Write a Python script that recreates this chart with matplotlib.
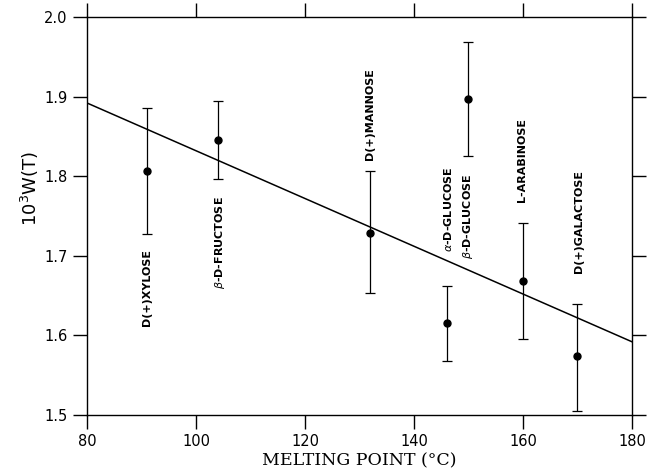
import numpy as np
import matplotlib
matplotlib.use('Agg')
import matplotlib.pyplot as plt

# sugars: melting point vs 10^3 W(T)
names = ['D(+)XYLOSE', r'$\beta$-D-FRUCTOSE', 'D(+)MANNOSE', r'$\alpha$-D-GLUCOSE',
         r'$\beta$-D-GLUCOSE', 'L-ARABINOSE', 'D(+)GALACTOSE']
mp = [91, 104, 132, 146, 150, 160, 170]
w = [1.807, 1.845, 1.729, 1.615, 1.897, 1.668, 1.574]
w_lo = [1.728, 1.797, 1.653, 1.568, 1.825, 1.596, 1.505]
w_hi = [1.886, 1.894, 1.806, 1.662, 1.969, 1.741, 1.640]

# label positions (x, bottom of text)
label_x = [91, 104.4, 132, 146.3, 150, 159.9, 170.2]
label_y = [1.612, 1.658, 1.820, 1.705, 1.696, 1.768, 1.678]

# fitted line
fit_x = [80, 180]
fit_y = [1.892, 1.592]

w = np.array(w)
yerr = [w - np.array(w_lo), np.array(w_hi) - w]

fig = plt.figure(figsize=(6.47, 4.73), dpi=100)
ax = fig.add_axes([0.1345, 0.1226, 0.8423, 0.8414])

ax.plot(fit_x, fit_y, color='black', lw=1.1)
ax.errorbar(mp, w, yerr=yerr, fmt='o', color='black', ms=5,
            elinewidth=0.9, capsize=3.3, capthick=0.9)

for name, lx, ly in zip(names, label_x, label_y):
    ax.text(lx, ly, name, rotation=90, ha='center', va='bottom',
            fontsize=8, fontweight='bold',
            family=['Liberation Sans Narrow', 'DejaVu Sans'])

ax.set_xlim(80, 180)
ax.set_ylim(1.5, 2.0)
ax.set_xticks(np.arange(80, 181, 20))
ax.set_yticks(np.arange(1.5, 2.01, 0.1))
ax.set_yticklabels(['1.5', '1.6', '1.7', '1.8', '1.9', '2.0'])
ax.tick_params(direction='out', length=10, width=1, top=True, right=True,
               labelsize=10.5, pad=4)
for s in ax.spines.values():
    s.set_linewidth(1)

ax.set_xlabel('MELTING POINT (°C)', family='DejaVu Serif', fontsize=12.5, labelpad=2)
ax.set_ylabel(r'$10^3$W(T)', fontsize=13, labelpad=2)
ax.yaxis.set_label_coords(-0.085, 0.57)

fig.savefig('out.png', dpi=100)
